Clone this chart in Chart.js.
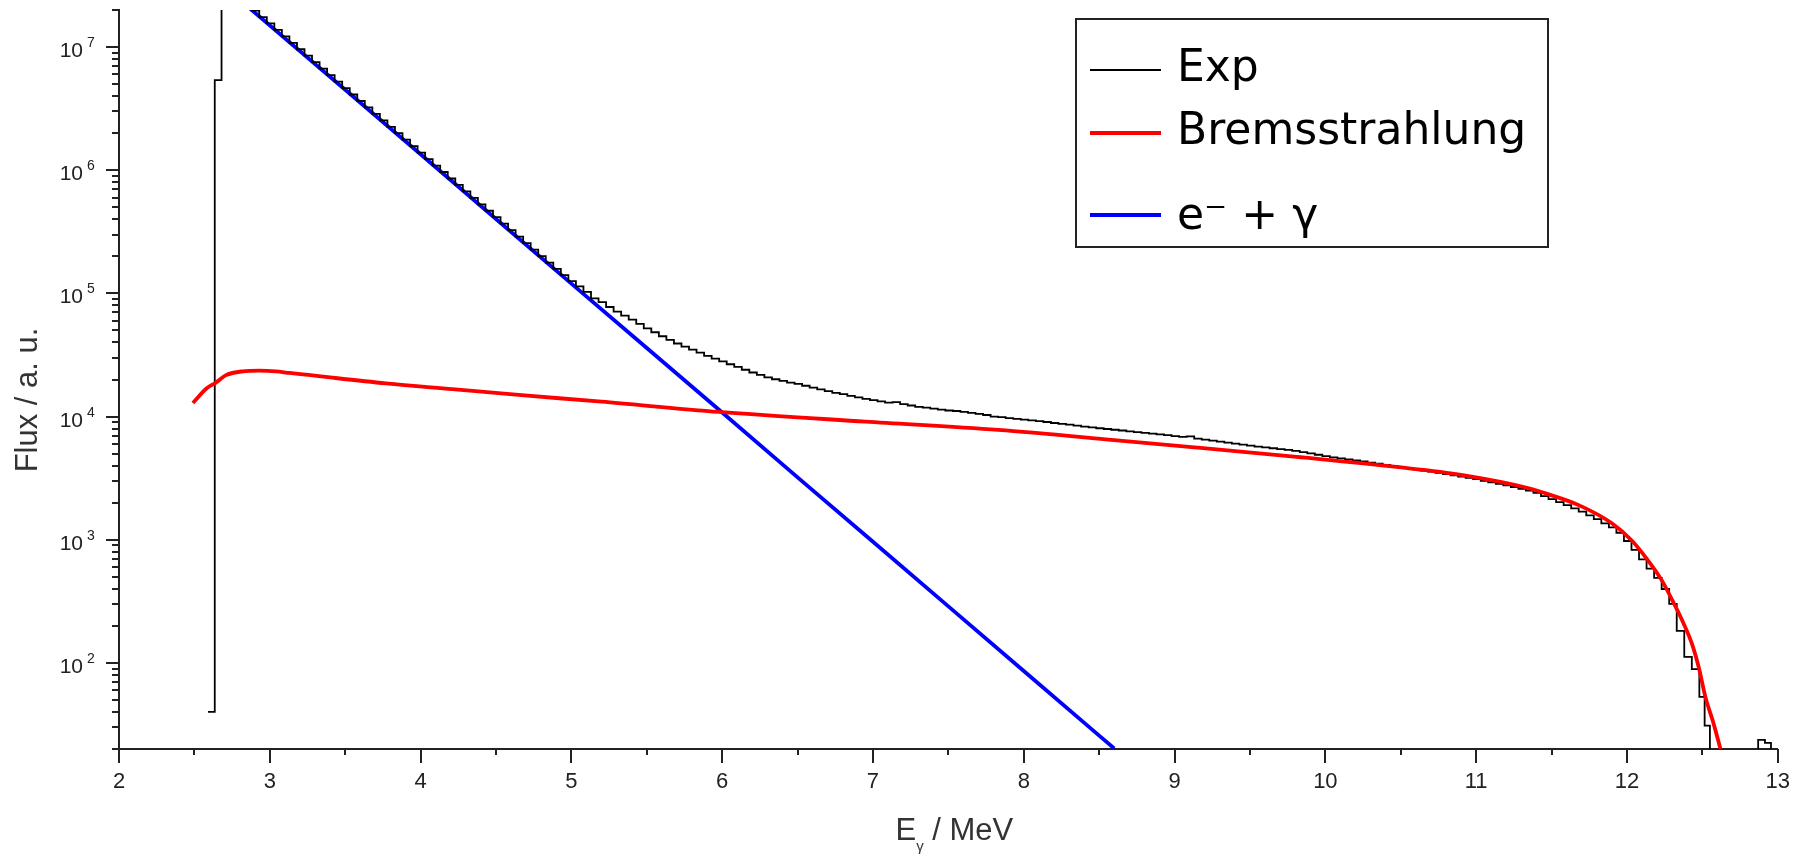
<!DOCTYPE html>
<html>
<head>
<meta charset="utf-8">
<title>Photon flux spectrum</title>
<script src="https://cdn.jsdelivr.net/npm/chart.js@4.4.1/dist/chart.umd.min.js"></script>
<style>
  html, body { margin: 0; padding: 0; background: #fff; }
  canvas { display: block; }
</style>
</head>
<body>
<canvas id="spectrum" width="1810" height="856"></canvas>
<script>
// Measured spectrum (histogram): short lead-in, then 0.05 MeV bins from 2.68 MeV
const expHeadE = [2.59, 2.635];
const expHeadFlux = [40, 5.4e6];
const expBinStart = 2.68;
const expBinWidth = 0.05;
const expFlux = [
  3.21e7, 2.85e7, 2.52e7, 2.23e7, 1.98e7, 1.75e7, 1.56e7, 1.38e7, 1.22e7, 1.08e7,
  9.60e6, 8.51e6, 7.54e6, 6.68e6, 5.92e6, 5.25e6, 4.65e6, 4.12e6, 3.65e6, 3.24e6,
  2.87e6, 2.54e6, 2.25e6, 2.00e6, 1.77e6, 1.57e6, 1.39e6, 1.23e6, 1.09e6, 9.68e5,
  8.57e5, 7.60e5, 6.73e5, 5.97e5, 5.29e5, 4.69e5, 4.16e5, 3.68e5, 3.27e5, 2.89e5,
  2.56e5, 2.27e5, 2.01e5, 1.78e5, 1.58e5, 1.41e5, 1.26e5, 1.14e5, 1.03e5, 9.12e4,
  8.51e4, 7.76e4, 7.11e4, 6.61e4, 6.12e4, 5.65e4, 5.21e4, 4.84e4, 4.49e4, 4.19e4,
  3.92e4, 3.70e4, 3.49e4, 3.30e4, 3.11e4, 2.95e4, 2.81e4, 2.66e4, 2.53e4, 2.40e4,
  2.28e4, 2.18e4, 2.08e4, 2.01e4, 1.95e4, 1.89e4, 1.84e4, 1.78e4, 1.72e4, 1.66e4,
  1.61e4, 1.56e4, 1.52e4, 1.47e4, 1.43e4, 1.39e4, 1.36e4, 1.33e4, 1.30e4, 1.31e4,
  1.26e4, 1.23e4, 1.20e4, 1.18e4, 1.16e4, 1.14e4, 1.12e4, 1.11e4, 1.09e4, 1.07e4,
  1.05e4, 1.03e4, 1.00e4, 9890, 9730, 9590, 9460, 9330, 9180, 9040,
  8870, 8730, 8590, 8430, 8300, 8170, 8040, 7930, 7820, 7710,
  7590, 7480, 7380, 7280, 7160, 7060, 6950, 6850, 6900, 6620,
  6500, 6380, 6270, 6140, 6030, 5920, 5810, 5710, 5620, 5530,
  5440, 5360, 5270, 5150, 5020, 4900, 4780, 4670, 4580, 4500,
  4410, 4320, 4230, 4150, 4060, 3980, 3900, 3820, 3730, 3650,
  3570, 3490, 3410, 3330, 3250, 3180, 3100, 3010, 2920, 2840,
  2760, 2680, 2590, 2510, 2400, 2260, 2140, 2020, 1910, 1800,
  1690, 1580, 1470, 1360, 1260, 1140, 977, 828, 692, 582,
  490, 398, 302, 182, 112, 89, 53
];
// end of the spectrum: empty bins sit below the axis floor, then the small bump near 12.9 MeV
const expTailE = [12.515, 12.55, 12.87, 12.915, 12.955];
const expTailFlux = [31, 1, 23.7, 22.4, 1];

// Bremsstrahlung fit
const bremsE = [2.49, 2.58, 2.64, 2.71, 2.82, 2.93, 3.04, 3.13, 3.27, 3.4, 3.77, 4.21, 4.65, 5.2,
  5.98, 6.95, 7.83, 8.6, 9.15, 9.81, 10.47, 10.91, 11.35, 11.46, 11.68, 11.9, 12.03, 12.12, 12.23,
  12.3, 12.365, 12.43, 12.475, 12.52, 12.575, 12.62];
const bremsFlux = [1.29e4, 1.69e4, 1.88e4, 2.17e4, 2.33e4, 2.36e4, 2.33e4, 2.26e4, 2.17e4, 2.08e4,
  1.86e4, 1.67e4, 1.5e4, 1.32e4, 1.09e4, 9100, 7800, 6450, 5600, 4700, 3900, 3350, 2620, 2380, 1910,
  1360, 990, 730, 470, 324, 223, 144, 93, 53, 32, 20];

// e- + gamma component
const egE = [2.86, 3.5, 4.0, 4.5, 5.0, 5.5, 6.0, 6.5, 7.0, 7.5, 8.0, 8.5, 8.6];
const egFlux = [2.1e7, 4.5e6, 1.35e6, 4.02e5, 1.2e5, 3.6e4, 1.08e4, 3210, 962, 288, 85.9, 25.7, 20.2];

// axes
const xMin = 2, xMax = 13, xStep = 0.5;
const yMin = 20, yMax = 2e7;
const yDecades = [2, 3, 4, 5, 6, 7];

const axisColor = '#222';
const textColor = '#222';

const toPoints = (xs, ys) => xs.map((x, i) => ({ x, y: ys[i] }));

const expPoints = toPoints(expHeadE, expHeadFlux)
  .concat(expFlux.map((v, i) => ({ x: +(expBinStart + i * expBinWidth).toFixed(3), y: v })))
  .concat(toPoints(expTailE, expTailFlux));

const isWhole = v => Math.abs(v - Math.round(v)) < 1e-6;

// tick marks, decade labels, axis titles and the boxed legend
const frame = {
  id: 'frame',
  afterDraw(chart) {
    const { ctx, chartArea: a, scales: { x, y } } = chart;
    ctx.save();
    ctx.strokeStyle = axisColor;
    ctx.lineWidth = 2;
    ctx.beginPath();
    for (let e = 1; e <= 7; e++) {
      for (let m = 1; m <= 9; m++) {
        const v = m * Math.pow(10, e);
        if (v < yMin - 1e-9 || v > yMax + 1e-9) continue;
        const py = Math.round(y.getPixelForValue(v));
        const len = m === 1 ? 13 : 7;
        ctx.moveTo(a.left - len, py);
        ctx.lineTo(a.left, py);
      }
    }
    x.ticks.forEach(t => {
      const px = Math.round(x.getPixelForValue(t.value));
      const len = isWhole(t.value) ? 14 : 6;
      ctx.moveTo(px, a.bottom);
      ctx.lineTo(px, a.bottom + len);
    });
    ctx.stroke();

    // decade labels: 10 with a raised exponent
    ctx.fillStyle = textColor;
    ctx.textBaseline = 'alphabetic';
    yDecades.forEach(e => {
      const py = y.getPixelForValue(Math.pow(10, e));
      ctx.font = '21px "Liberation Sans", Arial, sans-serif';
      ctx.textAlign = 'right';
      ctx.fillText('10', a.left - 36, py + 10);
      ctx.font = '14px "Liberation Sans", Arial, sans-serif';
      ctx.textAlign = 'left';
      ctx.fillText(String(e), a.left - 32, py);
    });

    // axis titles
    ctx.fillStyle = '#333';
    ctx.font = '31px "Liberation Sans", Arial, sans-serif';
    ctx.save();
    ctx.translate(37, 400);
    ctx.rotate(-Math.PI / 2);
    ctx.textAlign = 'center';
    ctx.fillText('Flux / a. u.', 0, 0);
    ctx.restore();

    ctx.textAlign = 'left';
    const base = 840;
    const bigFont = '31px "Liberation Sans", Arial, sans-serif';
    const subFont = '15px "Liberation Sans", Arial, sans-serif';
    ctx.font = bigFont;
    const wE = ctx.measureText('E').width;
    const wRest = ctx.measureText(' / MeV').width;
    ctx.font = subFont;
    const wSub = ctx.measureText('\u03b3').width;
    const sx = (a.left + a.right) / 2 + 6 - (wE + wSub + wRest) / 2;
    ctx.font = bigFont;
    ctx.fillText('E', sx, base);
    ctx.font = subFont;
    ctx.fillText('\u03b3', sx + wE, base + 11);
    ctx.font = bigFont;
    ctx.fillText(' / MeV', sx + wE + wSub, base);

    // legend
    ctx.strokeStyle = axisColor;
    ctx.lineWidth = 2;
    ctx.strokeRect(1076, 19, 472, 228);
    const rows = [70, 133, 215];
    ctx.font = '44px "DejaVu Sans", sans-serif';
    ctx.fillStyle = '#000';
    chart.data.datasets.forEach((ds, i) => {
      ctx.strokeStyle = ds.borderColor;
      ctx.lineWidth = ds.borderWidth;
      ctx.beginPath();
      ctx.moveTo(1090, rows[i]);
      ctx.lineTo(1161, rows[i]);
      ctx.stroke();
      ctx.fillText(ds.label, 1177, rows[i] + (i === 2 ? 14 : 11));
    });
    ctx.restore();
  }
};

Chart.defaults.font.family = '"Liberation Sans", Arial, sans-serif';

new Chart(document.getElementById('spectrum'), {
  type: 'line',
  data: {
    datasets: [
      {
        label: 'Exp',
        data: expPoints,
        stepped: true,
        borderColor: '#000000',
        borderWidth: 1.8,
        pointRadius: 0,
        order: 2
      },
      {
        label: 'Bremsstrahlung',
        data: toPoints(bremsE, bremsFlux),
        borderColor: '#ff0000',
        borderWidth: 3.8,
        pointRadius: 0,
        cubicInterpolationMode: 'monotone',
        order: 1
      },
      {
        label: 'e\u207b + \u03b3',
        data: toPoints(egE, egFlux),
        borderColor: '#0000ff',
        borderWidth: 3.8,
        pointRadius: 0,
        order: 3
      }
    ]
  },
  options: {
    responsive: false,
    animation: false,
    devicePixelRatio: 1,
    layout: { padding: { left: 0, top: 10, right: 28, bottom: 0 } },
    plugins: {
      legend: { display: false },
      tooltip: { enabled: false }
    },
    scales: {
      x: {
        type: 'linear',
        min: xMin,
        max: xMax,
        grid: { display: false, drawTicks: false },
        border: { display: true, color: axisColor, width: 2 },
        ticks: {
          stepSize: xStep,
          autoSkip: false,
          maxRotation: 0,
          padding: 20,
          color: textColor,
          font: { size: 22 },
          callback: v => (isWhole(v) ? String(Math.round(v)) : '')
        },
        afterFit: s => { s.height = 107; }
      },
      y: {
        type: 'logarithmic',
        min: yMin,
        max: yMax,
        grid: { display: false, drawTicks: false },
        border: { display: true, color: axisColor, width: 2 },
        ticks: { display: false },
        afterFit: s => { s.width = 119; s.paddingTop = 0; s.paddingBottom = 0; }
      }
    }
  },
  plugins: [frame]
});
</script>
</body>
</html>
